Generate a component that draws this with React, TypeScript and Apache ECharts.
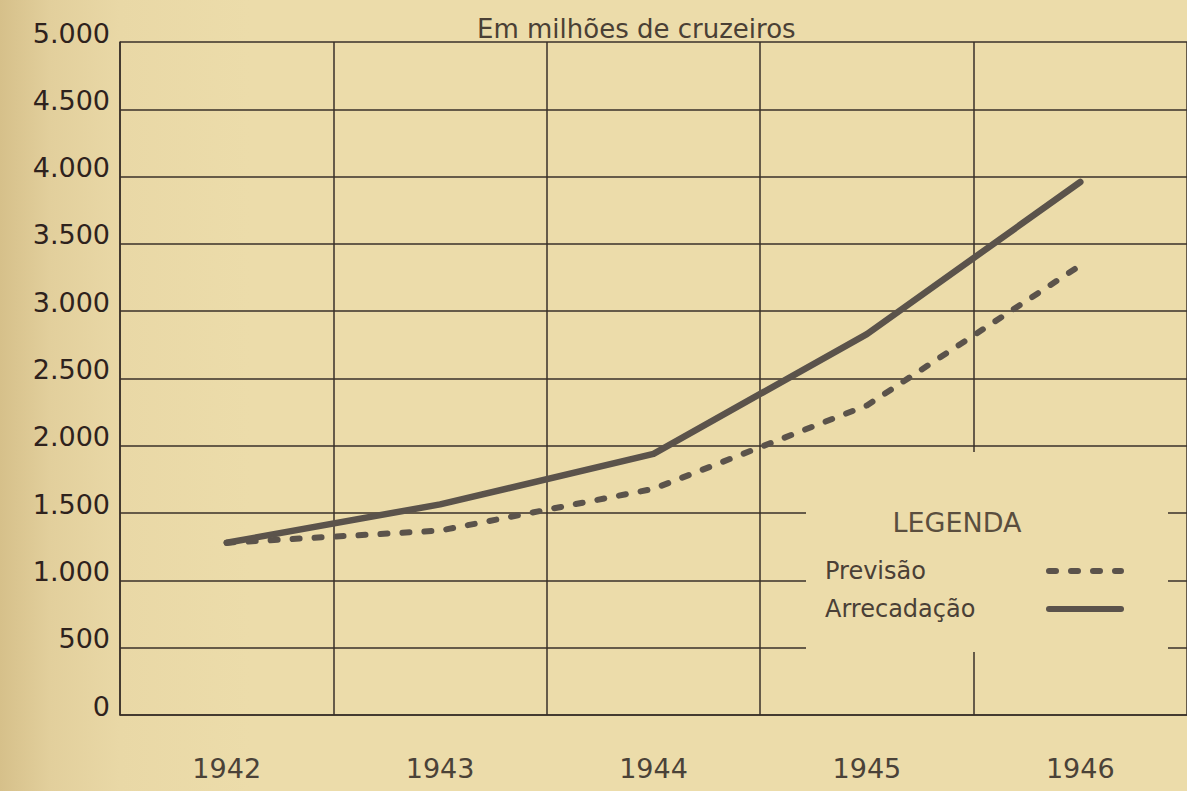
import React, { useEffect, useRef } from "react";
import * as echarts from "echarts";

const years = ["1942", "1943", "1944", "1945", "1946"];
const previsao = [1280, 1370, 1680, 2300, 3340];
const arrecadacao = [1280, 1565, 1940, 2830, 3960];
const yTickLabels = ["0", "500", "1.000", "1.500", "2.000", "2.500", "3.000", "3.500", "4.000", "4.500", "5.000"];
const seriesNames = ["Previsão", "Arrecadação"];
const titleText = "Em milhões de cruzeiros";
const legendTitle = "LEGENDA";

const BG = "#ecdcaa";
const INK = "#3a3028";
const LINE = "#5b534b";
const FONT = "'DejaVu Sans', 'Noto Sans', sans-serif";

export default function App() {
  const ref = useRef<HTMLDivElement>(null);
  useEffect(() => {
    if (!ref.current) return;
    const chart = echarts.init(ref.current, undefined, { renderer: "svg" });
    chart.setOption({
      animation: false,
      backgroundColor: "transparent",
      title: {
        text: titleText,
        left: 472,
        top: 11,
        textStyle: { fontFamily: FONT, fontSize: 26, fontWeight: "normal", color: "#4a4035" },
      },
      grid: { left: 120, top: 42, bottom: 76, width: 1070, containLabel: false },
      xAxis: {
        type: "category",
        data: years,
        boundaryGap: true,
        axisLine: { show: true, lineStyle: { color: INK, width: 1.5 } },
        axisTick: { show: false },
        splitLine: { show: true, lineStyle: { color: INK, width: 1.5 } },
        axisLabel: { margin: 40, fontFamily: FONT, fontSize: 27, color: "#4a4238" },
      },
      yAxis: {
        type: "value",
        min: 0,
        max: 5000,
        interval: 500,
        axisLine: { show: true, lineStyle: { color: INK, width: 1.5 } },
        axisTick: { show: false },
        splitLine: { show: true, lineStyle: { color: INK, width: 1.5 } },
        axisLabel: {
          margin: 10,
          fontFamily: FONT,
          fontSize: 27,
          color: "#2e221d",
          verticalAlign: "bottom",
          lineHeight: 18,
          formatter: (v: number) => yTickLabels[Math.round(v / 500)] ?? String(v),
        },
      },
      legend: {
        data: seriesNames,
        orient: "vertical",
        left: 820,
        top: 554,
        align: "right",
        itemWidth: 72,
        itemHeight: 14,
        itemGap: 14,
        itemStyle: { opacity: 0 },
        lineStyle: { width: 6, cap: "round" },
        formatter: (name: string) => `{a|${name}}`,
        textStyle: {
          fontFamily: FONT,
          fontSize: 24,
          color: "#4a4036",
          rich: {
            a: { width: 219, align: "left", fontFamily: FONT, fontSize: 24, color: "#4a4036" },
          },
        },
      },
      graphic: [
        {
          type: "rect",
          z: 1,
          shape: { x: 806, y: 452, width: 362, height: 200 },
          style: { fill: BG },
          silent: true,
        },
        {
          type: "text",
          z: 3,
          x: 957,
          y: 522,
          style: {
            text: legendTitle,
            fontFamily: FONT,
            fontSize: 27,
            fill: "#5a4e3e",
            textAlign: "center",
            textVerticalAlign: "middle",
          },
        },
      ],
      series: [
        {
          name: seriesNames[0],
          type: "line",
          data: previsao,
          symbol: "none",
          z: 3,
          lineStyle: { color: LINE, width: 6, type: [7, 15], cap: "round", join: "round" },
          itemStyle: { color: LINE },
        },
        {
          name: seriesNames[1],
          type: "line",
          data: arrecadacao,
          symbol: "none",
          z: 4,
          lineStyle: { color: LINE, width: 6.5, type: "solid", cap: "round", join: "round" },
          itemStyle: { color: LINE },
        },
      ],
    });
    return () => chart.dispose();
  }, []);
  return (
    <div
      style={{
        position: "fixed",
        left: 0,
        top: 0,
        width: 1187,
        height: 791,
        background: `linear-gradient(to right, #d6c08a 0px, #e2cf9c 50px, #e9d8a6 120px, ${BG} 250px, ${BG} 100%)`,
      }}
    >
      <div ref={ref} style={{ width: 1187, height: 791 }} />
    </div>
  );
}
